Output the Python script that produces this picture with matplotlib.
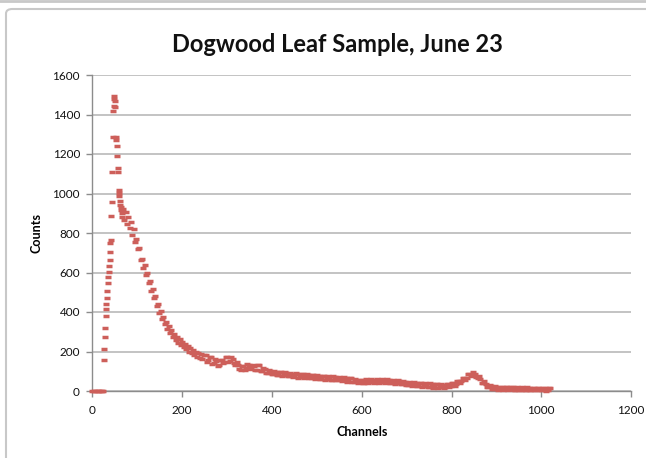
import matplotlib.pyplot as plt
from matplotlib.patches import FancyBboxPatch
from matplotlib.lines import Line2D

# spectrum (channel, counts), coarser in the flat tail
ZERO_CH = [0, 3, 6, 9, 12, 15, 18, 21, 24]
ZERO_CT = [0, 0, 0, 0, 0, 0, 0, 0, 0]

PEAK_CH = [25, 26, 27, 28, 29, 30, 31, 32, 33, 34, 35, 36, 37, 38, 39, 40, 41,
           42, 43, 44, 45, 46, 47, 48, 49, 50, 51, 52, 53, 54, 55, 56, 57, 58,
           59, 60, 61, 62, 63, 64, 65, 66]
PEAK_CT = [155, 214, 272, 318, 380, 413, 443, 472, 505, 548, 575, 602, 632,
           662, 705, 750, 767, 885, 956, 1108, 1287, 1417, 1442, 1480, 1493,
           1470, 1440, 1285, 1270, 1240, 1190, 1130, 1110, 1020, 1005, 986,
           960, 940, 915, 930, 900, 880]

DECAY_CH = [68, 71, 74, 77, 80, 83, 86, 89, 92, 95, 98, 101, 104, 107, 110,
            113, 116, 119, 122, 125, 128, 131, 134, 137, 140, 143, 146, 149, 152, 155,
            158, 161, 164, 167, 170, 173, 176, 179, 182, 185, 188, 191, 194, 197, 200,
            203, 206, 209, 212, 215, 218, 221, 224, 227, 230, 233, 236, 239, 242, 245,
            248]
DECAY_CT = [920, 865, 905, 845, 880, 825, 855, 790, 820, 755, 770, 720, 725, 665, 670,
            625, 640, 585, 600, 545, 555, 505, 515, 470, 480, 430, 440, 395, 405, 365,
            375, 340, 350, 315, 330, 295, 310, 275, 290, 258, 272, 245, 262, 235, 248,
            222, 240, 212, 228, 200, 218, 192, 208, 182, 200, 172, 192, 165, 185, 160,
            182]

TAIL_CH = [252, 258, 264, 270, 276, 282, 288, 294, 300, 306, 312, 318, 324,
           330, 336, 342, 348, 354, 360, 366, 372, 378, 384, 390, 396, 402,
           408, 414, 420, 426, 432, 438, 444, 450, 456, 462, 468, 474, 480,
           486, 492, 498, 504, 510, 516, 522, 528, 534, 540, 546, 552, 558,
           564, 570, 576, 582, 588, 594, 600, 606, 612, 618, 624, 630, 636,
           642, 648, 654, 660, 666, 672, 678, 684, 690, 696, 702, 708, 714,
           720, 726, 732, 738, 744, 750, 756, 762, 768, 774, 780, 786, 792,
           798, 804, 810, 816, 822, 828, 834, 840, 846, 852, 858, 864, 870,
           876, 882, 888, 894, 900, 906, 912, 918, 924, 930, 936, 942, 948,
           954, 960, 966, 972, 978, 984, 990, 996, 1002, 1008, 1014, 1020]
TAIL_CT = [182, 158, 172, 140, 150, 132, 158, 148, 172, 150, 164, 132, 130,
           108, 128, 115, 132, 118, 126, 108, 130, 100, 112, 92, 102, 84,
           98, 80, 94, 80, 92, 74, 88, 76, 86, 72, 84, 70, 82,
           66, 80, 64, 76, 62, 74, 60, 72, 58, 70, 56, 68, 56,
           66, 50, 64, 48, 58, 44, 56, 42, 56, 44, 58, 46, 58,
           44, 58, 46, 54, 42, 52, 40, 50, 36, 46, 32, 42, 30,
           40, 26, 38, 24, 34, 22, 34, 20, 34, 20, 32, 20, 34,
           26, 40, 34, 52, 50, 68, 68, 86, 82, 88, 66, 60, 38,
           36, 20, 26, 12, 22, 10, 20, 8, 18, 8, 18, 6, 16,
           6, 16, 5, 16, 4, 15, 5, 15, 4, 15, 5, 14]

# the channels in between, same tail
TAIL2_CH = [255, 261, 267, 273, 279, 285, 291, 297, 303, 309, 315, 321, 327,
            333, 339, 345, 351, 357, 363, 369, 375, 381, 387, 393, 399, 405,
            411, 417, 423, 429, 435, 441, 447, 453, 459, 465, 471, 477, 483,
            489, 495, 501, 507, 513, 519, 525, 531, 537, 543, 549, 555, 561,
            567, 573, 579, 585, 591, 597, 603, 609, 615, 621, 627, 633, 639,
            645, 651, 657, 663, 669, 675, 681, 687, 693, 699, 705, 711, 717,
            723, 729, 735, 741, 747, 753, 759, 765, 771, 777, 783, 789, 795,
            801, 807, 813, 819, 825, 831, 837, 843, 849, 855, 861, 867, 873,
            879, 885, 891, 897, 903, 909, 915, 921, 927, 933, 939, 945, 951,
            957, 963, 969, 975, 981, 987, 993, 999, 1005, 1011, 1017]
TAIL2_CT = [148, 170, 138, 160, 128, 156, 140, 170, 146, 170, 140, 148, 112,
            128, 108, 136, 110, 132, 106, 132, 103, 118, 90, 108, 85, 100,
            82, 96, 76, 94, 74, 92, 72, 90, 68, 86, 66, 84, 64,
            82, 62, 80, 60, 78, 58, 76, 56, 74, 54, 72, 52, 70,
            48, 66, 44, 62, 40, 58, 38, 60, 40, 61, 42, 62, 42,
            61, 41, 60, 39, 58, 37, 56, 34, 52, 30, 48, 26, 45,
            23, 42, 20, 39, 18, 38, 17, 37, 16, 36, 16, 37, 18,
            42, 26, 52, 40, 68, 58, 88, 75, 96, 70, 76, 42, 50,
            20, 32, 10, 25, 7, 22, 5, 20, 4, 19, 3, 19, 3,
            18, 3, 18, 3, 17, 3, 17, 3, 17, 2, 16]

channels = ZERO_CH + PEAK_CH + DECAY_CH + TAIL_CH + TAIL2_CH
counts = ZERO_CT + PEAK_CT + DECAY_CT + TAIL_CT + TAIL2_CT
assert len(channels) == len(counts)

RED = "#CD5F5A"
GRID = "#BEBEBE"
AXIS = "#8C8C8C"

plt.rcParams["font.family"] = ["Lato", "DejaVu Sans"]

fig = plt.figure(figsize=(6.46, 4.58), dpi=100)

# chart frame like the spreadsheet one
fig.patches.append(FancyBboxPatch((6 / 646, -0.05), 1.2, 1.0 - 9 / 458 + 0.05,
                                  boxstyle="round,pad=0,rounding_size=0.01",
                                  transform=fig.transFigure, fill=False,
                                  edgecolor="#C8C8C8", linewidth=1.5))
fig.lines.append(Line2D([0, 1], [1 - 1 / 458, 1 - 1 / 458], transform=fig.transFigure,
                        color="#C8C8C8", linewidth=2))

ax = fig.add_axes([92.5 / 646, 1 - 391 / 458, (631 - 92.5) / 646, (391 - 75) / 458])

ax.plot(channels, counts, linestyle="none", marker="_", markersize=4.4,
        markeredgewidth=2.5, color=RED, zorder=3, clip_on=False)

ax.set_xlim(0, 1200)
ax.set_ylim(0, 1600)
ax.set_xticks(range(0, 1201, 200))
ax.set_yticks(range(0, 1601, 200))
ax.grid(axis="y", color=GRID, linewidth=1.3)
ax.set_axisbelow(True)

for side in ["top", "right"]:
    ax.spines[side].set_visible(False)
for side in ["left", "bottom"]:
    ax.spines[side].set_color(AXIS)
    ax.spines[side].set_linewidth(1.0)

ax.tick_params(axis="both", colors=AXIS, length=4, width=1.0, labelsize=8.5,
               labelcolor="#111111")
ax.tick_params(axis="x", pad=6)
ax.tick_params(axis="y", pad=5)

ax.set_xlabel("Channels", fontsize=9, fontweight="bold", labelpad=7)
ax.set_ylabel("Counts", fontsize=9, fontweight="bold", labelpad=7)

fig.text(337 / 646, 1 - 44 / 458, "Dogwood Leaf Sample, June 23", ha="center",
         va="center", fontsize=17, fontweight="bold", color="#111111")

fig.savefig("out.png", dpi=100)
